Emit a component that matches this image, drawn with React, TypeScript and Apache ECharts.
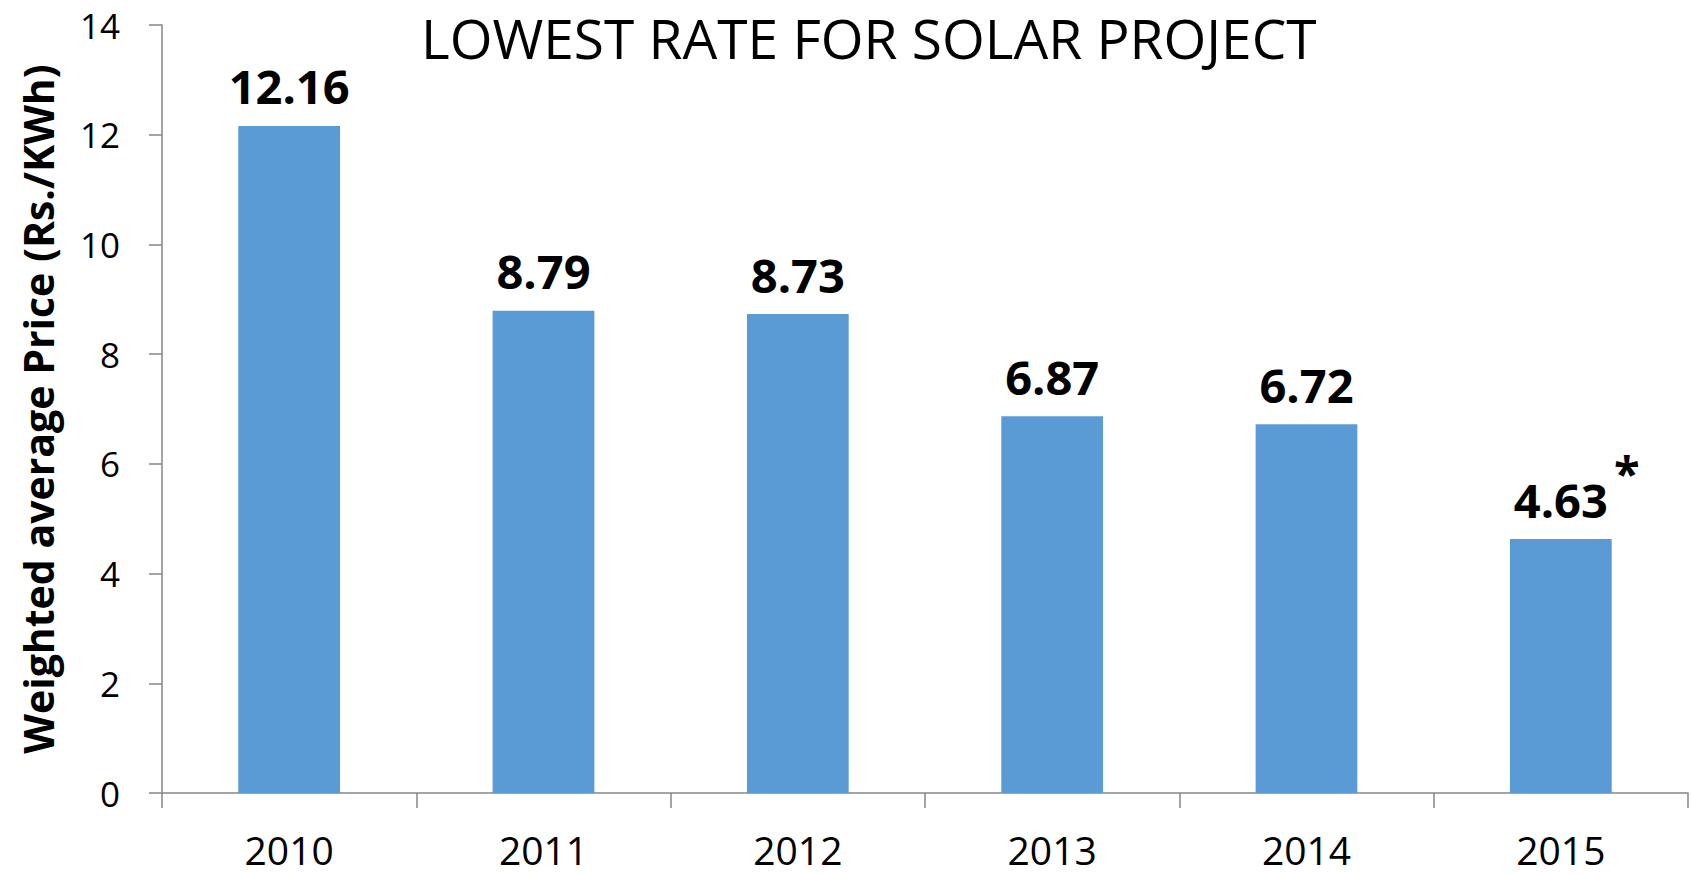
import React, { useEffect, useRef } from "react";
import * as echarts from "echarts";

const chartTitle = "LOWEST RATE FOR SOLAR PROJECT";
const yAxisName = "Weighted average Price (Rs./KWh)";
const years = ["2010", "2011", "2012", "2013", "2014", "2015"];
const prices = [12.16, 8.79, 8.73, 6.87, 6.72, 4.63];
const footnoteIndex = 5;
const footnoteMark = "*";
const yMin = 0;
const yMax = 14;
const yStep = 2;

const FONT = "'Open Sans', 'Liberation Sans', sans-serif";

export default function App() {
  const ref = useRef<HTMLDivElement>(null);
  useEffect(() => {
    if (!ref.current) return;
    const chart = echarts.init(ref.current, null, { renderer: "svg" });
    const axisColor = "#868686";
    chart.setOption({
      animation: false,
      backgroundColor: "#ffffff",
      textStyle: { fontFamily: FONT },
      grid: { left: 162, right: 4, top: 25, bottom: 81, containLabel: false },
      xAxis: {
        type: "category",
        data: years,
        boundaryGap: true,
        axisLine: { show: true, lineStyle: { color: axisColor, width: 1.5 } },
        axisTick: { show: true, length: 15, alignWithLabel: false, lineStyle: { color: axisColor, width: 1.5 } },
        axisLabel: { color: "#000", fontSize: 39, lineHeight: 36, fontFamily: FONT, margin: 38 },
      },
      yAxis: {
        type: "value",
        min: yMin,
        max: yMax,
        interval: yStep,
        name: yAxisName,
        nameLocation: "middle",
        nameRotate: 90,
        nameGap: 104,
        nameTextStyle: { color: "#000", fontSize: 41, fontWeight: "bold", fontFamily: FONT },
        splitLine: { show: false },
        axisLine: { show: true, lineStyle: { color: axisColor, width: 1.5 } },
        axisTick: { show: true, length: 13, inside: false, lineStyle: { color: axisColor, width: 1.5 } },
        axisLabel: { color: "#000", fontSize: 35, fontFamily: FONT, margin: 42 },
      },
      series: [
        {
          type: "bar",
          data: prices,
          barWidth: "40%",
          itemStyle: { color: "#5B9BD5" },
          label: {
            show: true,
            position: "top",
            distance: 16,
            color: "#000",
            fontSize: 47,
            fontWeight: "bold",
            fontFamily: FONT,
            formatter: (p: any) => String(p.value),
          },
        },
      ],
    });
    const [px, py] = chart.convertToPixel({ seriesIndex: 0 }, [footnoteIndex, prices[footnoteIndex]]) as number[];
    chart.setOption({
      graphic: [
        {
          type: "text",
          left: 421,
          top: 9,
          style: { text: chartTitle, fill: "#000", fontSize: 55, lineHeight: 56, fontFamily: FONT },
        },
        {
          type: "text",
          x: px + 66,
          y: py - 90,
          style: {
            text: footnoteMark,
            fill: "#000",
            fontSize: 47,
            fontWeight: "bold",
            fontFamily: FONT,
            align: "center",
            verticalAlign: "top",
          },
        },
      ],
    });
    return () => chart.dispose();
  }, []);
  return <div ref={ref} style={{ position: "fixed", left: 0, top: 0, width: 1692, height: 874 }} />;
}
